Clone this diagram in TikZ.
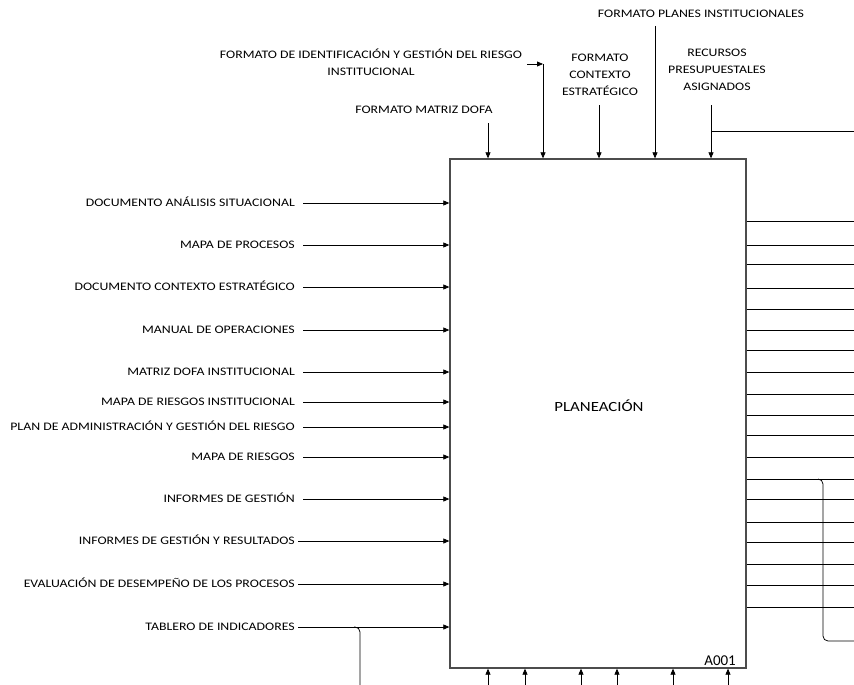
\documentclass[tikz,border=0pt]{standalone}
\usepackage{fontspec}
\setmainfont{Carlito}
\newfontfamily\lblfont[FakeStretch=1.2]{Carlito}
\usetikzlibrary{arrows.meta}
\begin{document}
\begin{tikzpicture}[x=1pt,y=-1pt,
  lbl/.style={font=\lblfont\fontsize{11.5}{14}\selectfont, inner sep=0pt, text height=7.4pt, text depth=0pt},
  toplbl/.style={font=\lblfont\fontsize{11.5}{17}\selectfont, inner sep=0pt, align=center},
  flow/.style={line width=0.75pt, -{Triangle[length=6pt,width=5pt]}},
  wire/.style={line width=0.75pt},
  procbox/.style={draw=black!70, line width=1.3pt, minimum width=296pt, minimum height=509pt, inner sep=0pt}]
\useasboundingbox (0,0) rectangle (854,685);

% activity box
\node[procbox] (proc) at (598,413.5) {};
\node[font=\lblfont\fontsize{14}{16}\selectfont] (title) at (599,406) {PLANEACIÓN};
\node[font=\fontsize{15}{17}\selectfont, inner sep=0pt, anchor=base east] (code) at (736,665) {A001};

% inputs from the left
\foreach \n/\y/\g/\t in {
  1/203/8/{DOCUMENTO ANÁLISIS SITUACIONAL},
  2/245/8/{MAPA DE PROCESOS},
  3/287/8/{DOCUMENTO CONTEXTO ESTRATÉGICO},
  4/330/8/{MANUAL DE OPERACIONES},
  5/372/8/{MATRIZ DOFA INSTITUCIONAL},
  6/402/8/{MAPA DE RIESGOS INSTITUCIONAL},
  7/427/8/{PLAN DE ADMINISTRACIÓN Y GESTIÓN DEL RIESGO},
  8/457/8/{MAPA DE RIESGOS},
  9/499/8/{INFORMES DE GESTIÓN},
  10/541/3/{INFORMES DE GESTIÓN Y RESULTADOS},
  11/584/3/{EVALUACIÓN DE DESEMPEÑO DE LOS PROCESOS},
  12/627/3/{TABLERO DE INDICADORES}}{
  \node[lbl, anchor=east] (in\n) at (295,\y) {\t};
  \draw[flow] (in\n.east) ++(\g,0) -- (in\n.east -| proc.west);
}

% feedback joining the last input
\coordinate (fbl) at (360,685);
\draw[wire, rounded corners=5pt] (fbl) -- (fbl |- in12.east) -- ++(-6,0);

% controls from the top
\node[toplbl] (ctl1) at (424,110) {FORMATO MATRIZ DOFA};
\node[toplbl] (ctl2) at (371,62) {FORMATO DE IDENTIFICACIÓN Y GESTIÓN DEL RIESGO\\INSTITUCIONAL};
\node[toplbl] (ctl3) at (600,75) {FORMATO\\CONTEXTO\\ESTRATÉGICO};
\node[toplbl] (ctl4) at (701,14) {FORMATO PLANES INSTITUCIONALES};
\node[toplbl] (ctl5) at (717,70) {RECURSOS\\PRESUPUESTALES\\ASIGNADOS};

\coordinate (t1) at (488,123);
\coordinate (t2) at (543,64);
\coordinate (t3) at (599,105);
\coordinate (t4) at (655,26);
\coordinate (t5) at (711,105);
\foreach \k in {1,...,5}{
  \draw[flow] (t\k) -- (t\k |- proc.north);
}
\draw[flow] (527,64) -- (t2);
\coordinate (rr) at (854,131);
\draw[wire] (t5 |- rr) -- (rr);

% outputs to the right
\foreach \k/\y in {1/221,2/245,3/264,4/288,5/309,6/330,7/350,8/372,9/394,10/415,
                    11/435,12/457,13/479,14/499,15/522,16/542,17/564,18/585,19/607}{
  \coordinate (out\k) at (854,\y);
  \draw[wire] (out\k -| proc.east) -- (out\k);
}

% feedback leaving the outputs
\coordinate (fbr) at (854,641);
\draw[wire, rounded corners=5pt] (818,479) -- (823,479) -- (823,641) -- (fbr);

% mechanisms from below
\foreach \x in {488,525,581,617,673,728}{
  \coordinate (b\x) at (\x,685);
  \draw[flow] (b\x) -- (b\x |- proc.south);
}
\end{tikzpicture}
\end{document}
